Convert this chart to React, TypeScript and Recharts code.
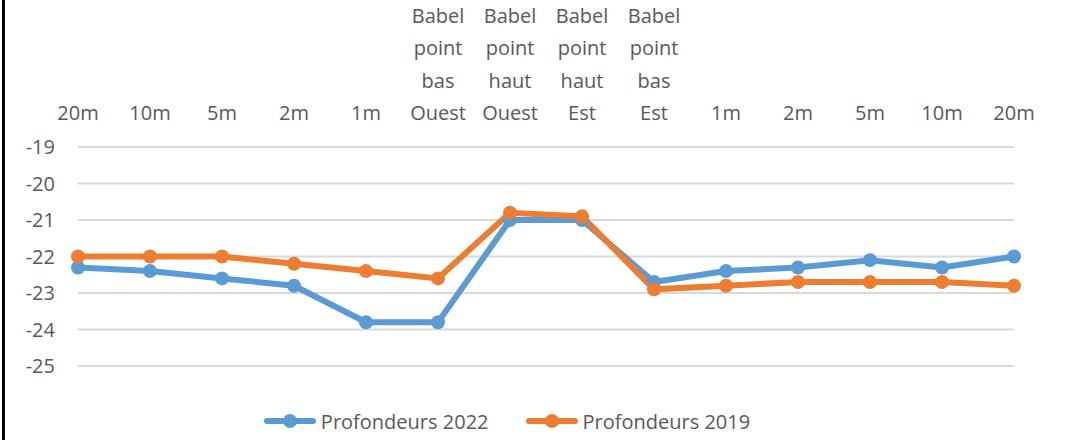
import React from 'react';
import {
  LineChart,
  Line,
  XAxis,
  YAxis,
  CartesianGrid,
  Legend,
} from 'recharts';

const categories = [
  '20m',
  '10m',
  '5m',
  '2m',
  '1m',
  'Babel\npoint\nbas\nOuest',
  'Babel\npoint\nhaut\nOuest',
  'Babel\npoint\nhaut\nEst',
  'Babel\npoint\nbas\nEst',
  '1m',
  '2m',
  '5m',
  '10m',
  '20m',
];

const depth2022 = [-22.3, -22.4, -22.6, -22.8, -23.8, -23.8, -21.0, -21.0, -22.7, -22.4, -22.3, -22.1, -22.3, -22.0];
const depth2019 = [-22.0, -22.0, -22.0, -22.2, -22.4, -22.6, -20.8, -20.9, -22.9, -22.8, -22.7, -22.7, -22.7, -22.8];

const yTicks = [-25, -24, -23, -22, -21, -20, -19];
const legendOrder = ['Profondeurs 2022', 'Profondeurs 2019'];

const data = categories.map((c, i) => ({
  id: i,
  label: c,
  p2022: depth2022[i],
  p2019: depth2019[i],
}));

const FONT = '"Open Sans", sans-serif';
const TEXT = '#595959';

function TopTick({ x, y, payload }: any) {
  const lines = String(categories[payload.value] ?? '').split('\n');
  const n = lines.length;
  return (
    <text x={x} y={y} textAnchor="middle" fill={TEXT} fontSize={20} fontFamily={FONT}>
      {lines.map((ln, i) => (
        <tspan key={i} x={x} y={y - 27 - (n - 1 - i) * 32.5}>
          {ln}
        </tspan>
      ))}
    </text>
  );
}

function LegendContent({ payload }: any) {
  const items = [...(payload || [])].sort(
    (a: any, b: any) => legendOrder.indexOf(a.value) - legendOrder.indexOf(b.value)
  );
  return (
    <div
      style={{
        height: 60,
        paddingTop: 43,
        boxSizing: 'border-box',
        display: 'flex',
        justifyContent: 'center',
        gap: 37,
        fontFamily: FONT,
        fontSize: 20,
        color: TEXT,
      }}
    >
      {items.map((p: any) => (
        <div key={p.value} style={{ display: 'flex', alignItems: 'center', height: 24 }}>
          <svg width={52} height={16} style={{ marginRight: 5 }}>
            <line x1={3} y1={8} x2={49} y2={8} stroke={p.color} strokeWidth={6} strokeLinecap="round" />
            <circle cx={26} cy={8} r={7} fill={p.color} />
          </svg>
          <span>{p.value}</span>
        </div>
      ))}
    </div>
  );
}

export default function App() {
  return (
    <div style={{ position: 'relative', width: 1069, height: 440, background: '#fff' }}>
      <style>{'body{margin:0;background:#fff}'}</style>
      <div
        style={{
          position: 'absolute',
          left: 2,
          top: 0,
          width: 3,
          height: 440,
          background: '#000',
        }}
      />
      <LineChart
        width={1069}
        height={440}
        data={data}
        margin={{ top: 0, right: 55, bottom: 14, left: 0 }}
      >
        <CartesianGrid vertical={false} stroke="#d9d9d9" strokeWidth={2} />
        <XAxis
          dataKey="id"
          orientation="top"
          height={147}
          axisLine={false}
          tickLine={false}
          tickSize={0}
          tickMargin={0}
          interval={0}
          tick={<TopTick />}
        />
        <YAxis
          domain={[-25, -19]}
          ticks={yTicks}
          width={78}
          axisLine={false}
          tickLine={false}
          tickSize={0}
          tickMargin={23}
          tick={{ fill: TEXT, fontSize: 20, fontFamily: FONT }}
        />
        <Legend verticalAlign="bottom" height={60} content={<LegendContent />} />
        <Line
          type="linear"
          dataKey="p2022"
          name="Profondeurs 2022"
          stroke="#5B9BD5"
          strokeWidth={6}
          dot={{ r: 7, fill: '#5B9BD5', stroke: '#5B9BD5', strokeWidth: 0 }}
          isAnimationActive={false}
        />
        <Line
          type="linear"
          dataKey="p2019"
          name="Profondeurs 2019"
          stroke="#ED7D31"
          strokeWidth={6}
          dot={{ r: 7, fill: '#ED7D31', stroke: '#ED7D31', strokeWidth: 0 }}
          isAnimationActive={false}
        />
      </LineChart>
    </div>
  );
}
